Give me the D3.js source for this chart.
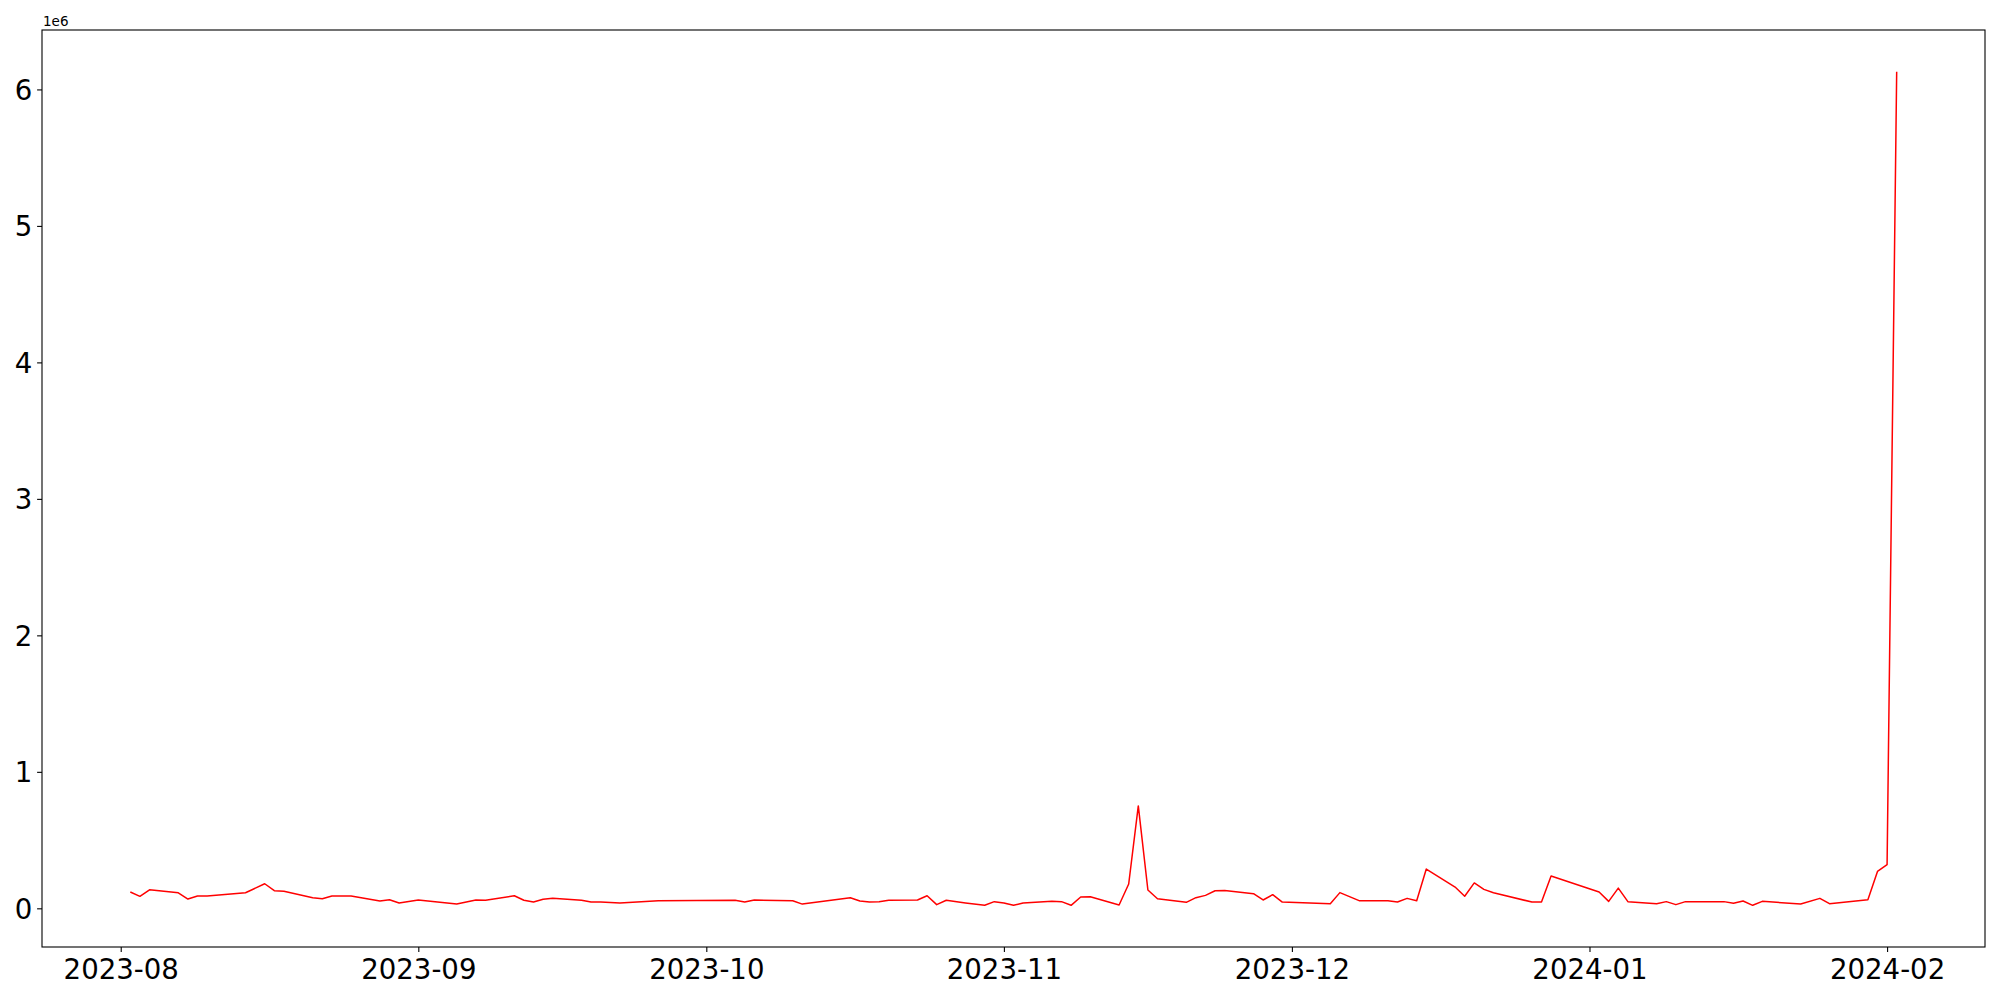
<!DOCTYPE html>
<html>
<head>
<meta charset="utf-8">
<script src="https://cdn.jsdelivr.net/npm/d3@7"></script>
<style>
  html, body { margin: 0; padding: 0; background: #fff; }
  svg { display: block; font-family: "DejaVu Sans", sans-serif; }
</style>
</head>
<body>
<svg id="chart" width="2000" height="1000"></svg>
<script>
// ---- data ----
const dates = [
  "2023-08-02","2023-08-03","2023-08-04","2023-08-07","2023-08-08","2023-08-09","2023-08-10",
  "2023-08-14","2023-08-16","2023-08-17","2023-08-18","2023-08-21","2023-08-22","2023-08-23",
  "2023-08-25","2023-08-28","2023-08-29","2023-08-30","2023-09-01","2023-09-05","2023-09-07",
  "2023-09-08","2023-09-11","2023-09-12","2023-09-13","2023-09-14","2023-09-15","2023-09-18",
  "2023-09-19","2023-09-20","2023-09-22","2023-09-26","2023-10-04","2023-10-05","2023-10-06",
  "2023-10-10","2023-10-11","2023-10-16","2023-10-17","2023-10-18","2023-10-19","2023-10-20",
  "2023-10-23","2023-10-24","2023-10-25","2023-10-26","2023-10-28","2023-10-30","2023-10-31",
  "2023-11-01","2023-11-02","2023-11-03","2023-11-06","2023-11-07","2023-11-08","2023-11-09",
  "2023-11-10","2023-11-13","2023-11-14","2023-11-15","2023-11-16","2023-11-17","2023-11-20",
  "2023-11-21","2023-11-22","2023-11-23","2023-11-24","2023-11-27","2023-11-28","2023-11-29",
  "2023-11-30","2023-12-05","2023-12-06","2023-12-08","2023-12-11","2023-12-12","2023-12-13",
  "2023-12-14","2023-12-15","2023-12-18","2023-12-19","2023-12-20","2023-12-21","2023-12-22",
  "2023-12-26","2023-12-27","2023-12-28","2024-01-02","2024-01-03","2024-01-04","2024-01-05",
  "2024-01-08","2024-01-09","2024-01-10","2024-01-11","2024-01-15","2024-01-16","2024-01-17",
  "2024-01-18","2024-01-19","2024-01-23","2024-01-25","2024-01-26","2024-01-30","2024-01-31",
  "2024-02-01","2024-02-02"
];
const values = [
  120000, 88000, 136000, 114000, 68000, 90000, 90000,
  114000, 180000, 129000, 125000, 78000, 70000, 90000,
  90000, 54000, 63000, 39000, 61000, 31000, 61000,
  59000, 92000, 59000, 46000, 66000, 73000, 59000,
  46000, 46000, 39000, 56000, 59000, 46000, 61000,
  56000, 31000, 78000, 54000, 46000, 49000, 59000,
  61000, 92000, 27000, 59000, 39000, 22000, 49000,
  39000, 22000, 39000, 51000, 49000, 22000, 83000,
  85000, 24000, 178000, 750000, 134000, 70000, 44000,
  78000, 95000, 129000, 131000, 107000, 61000, 100000,
  46000, 34000, 115000, 56000, 56000, 46000, 73000,
  56000, 288000, 156000, 88000, 186000, 139000, 114000,
  46000, 46000, 237000, 120000, 51000, 148000, 49000,
  34000, 49000, 27000, 49000, 49000, 37000, 54000,
  22000, 51000, 31000, 73000, 34000, 63000, 270000,
  320000, 6130000
];
const yTickValues = [0, 1000000, 2000000, 3000000, 4000000, 5000000, 6000000];
const xTickLabels = ["2023-08","2023-09","2023-10","2023-11","2023-12","2024-01","2024-02"];
const offsetLabel = "1e6";

// ---- layout ----
const svg = d3.select("#chart");
const mLeft = 42, mTop = 30, mRight = 1985, mBottom = 947;
const fontSize = 27.6;

const parse = d3.utcParse("%Y-%m-%d");
const data = dates.map((d, i) => ({ date: parse(d), value: values[i] }));

// matplotlib-like 5% margins
const xExt = d3.extent(data, d => d.date);
const xPad = (xExt[1] - xExt[0]) * 0.05;
const x = d3.scaleUtc()
  .domain([new Date(+xExt[0] - xPad), new Date(+xExt[1] + xPad)])
  .range([mLeft, mRight]);

const yExt = d3.extent(values);
const yPad = (yExt[1] - yExt[0]) * 0.05;
const y = d3.scaleLinear()
  .domain([yExt[0] - yPad, yExt[1] + yPad])
  .range([mBottom, mTop]);

// line
const line = d3.line().x(d => x(d.date)).y(d => y(d.value));
svg.append("path")
  .datum(data)
  .attr("fill", "none")
  .attr("stroke", "#ff0000")
  .attr("stroke-width", 1.5)
  .attr("stroke-linejoin", "round")
  .attr("d", line);

// x axis
const xTicks = xTickLabels.map(s => d3.utcParse("%Y-%m")(s));
const xAxis = d3.axisBottom(x)
  .tickValues(xTicks)
  .tickFormat(d3.utcFormat("%Y-%m"))
  .tickSize(4.9)
  .tickPadding(4.9);
const gx = svg.append("g")
  .attr("transform", `translate(0,${mBottom})`)
  .call(xAxis);
gx.select(".domain").remove();
gx.selectAll(".tick line").attr("stroke", "#000").attr("stroke-width", 1.1);
gx.selectAll(".tick text")
  .attr("y", 32).attr("dy", 0)
  .attr("fill", "#000")
  .style("font-size", fontSize + "px")
  .style("font-family", "'DejaVu Sans', sans-serif");

// y axis
const yAxis = d3.axisLeft(y)
  .tickValues(yTickValues)
  .tickFormat(d => d3.format("d")(d / 1e6))
  .tickSize(4.9)
  .tickPadding(4.9);
const gy = svg.append("g")
  .attr("transform", `translate(${mLeft},0)`)
  .call(yAxis);
gy.select(".domain").remove();
gy.selectAll(".tick line").attr("stroke", "#000").attr("stroke-width", 1.1);
gy.selectAll(".tick text")
  .attr("dy", "0.36em")
  .attr("fill", "#000")
  .style("font-size", fontSize + "px")
  .style("font-family", "'DejaVu Sans', sans-serif");

// frame
svg.append("rect")
  .attr("x", mLeft).attr("y", mTop)
  .attr("width", mRight - mLeft).attr("height", mBottom - mTop)
  .attr("fill", "none")
  .attr("stroke", "#000")
  .attr("stroke-width", 1.1);

// offset text
svg.append("text")
  .attr("x", mLeft + 1)
  .attr("y", mTop - 4.5)
  .attr("fill", "#000")
  .style("font-size", "13.5px")
  .style("font-family", "'DejaVu Sans', sans-serif")
  .text(offsetLabel);
</script>
</body>
</html>
